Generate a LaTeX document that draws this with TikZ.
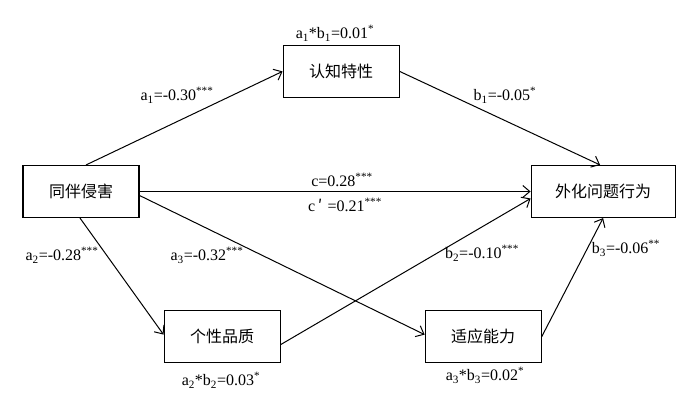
\documentclass[tikz,border=0pt]{standalone}
\usepackage{fontspec}
\setmainfont{Liberation Serif}
\newfontfamily\cjk{Noto Sans CJK SC}
\usetikzlibrary{positioning,arrows.meta}

\tikzset{
	box/.style={draw, line width=1.1pt, minimum width=116pt, minimum height=52pt, inner sep=0pt, font=\cjk\fontsize{16}{18}\selectfont},
	coef/.style={inner sep=0pt, font=\fontsize{16}{18}\selectfont},
	path/.style={line width=1pt, -{Straight Barb[length=7pt,width=12pt]}},
}

\begin{document}
\begin{tikzpicture}[x=1pt, y=-1pt]
		\useasboundingbox (0,0) rectangle (700,408);
		% variables
		\node [box] (peer) at (81,191.5) {同伴侵害};
		\node [box, above right=67pt and 143pt of peer] (cog) {认知特性};
		\node [box, below right=92pt and 24pt of peer] (pers) {个性品质};
		\node [box, right=144pt of pers] (adapt) {适应能力};
		\node [box, minimum width=144pt, right=391pt of peer] (ext) {外化问题行为};
		% paths
		\draw [path] ([xshift=5pt]peer.north) -- (cog.west);
		\draw [path] (cog.east) -- ([xshift=-3pt]ext.north);
		\draw [path] (peer.east) -- (ext.west);
		\draw [path] ([yshift=-4pt]peer.east) -- ([yshift=2pt]adapt.west);
		\draw [path] ([xshift=-1pt]peer.south) -- ([yshift=2pt]pers.west);
		\draw [path] ([yshift=-8pt]pers.east) -- ([yshift=-7pt]ext.west);
		\draw [path] (adapt.east) -- (ext.south);
		% coefficients
		\node [coef] (ab1) at (335,33) {a\textsubscript{1}*b\textsubscript{1}=0.01\textsuperscript{*}};
		\node [coef] (a1) at (177,95) {a\textsubscript{1}=-0.30\textsuperscript{***}};
		\node [coef] (b1) at (505,95) {b\textsubscript{1}=-0.05\textsuperscript{*}};
		\node [coef] (c) at (342,180) {c=0.28\textsuperscript{***}};
		\node [coef] (cp) at (345,205) {c\,{\cjk ′}\,\,=0.21\textsuperscript{***}};
		\node [coef] (a2) at (62,255) {a\textsubscript{2}=-0.28\textsuperscript{***}};
		\node [coef] (a3) at (207,255) {a\textsubscript{3}=-0.32\textsuperscript{***}};
		\node [coef] (b2) at (482,253) {b\textsubscript{2}=-0.10\textsuperscript{***}};
		\node [coef] (b3) at (626,248) {b\textsubscript{3}=-0.06\textsuperscript{**}};
		\node [coef] (ab2) at (221,380) {a\textsubscript{2}*b\textsubscript{2}=0.03\textsuperscript{*}};
		\node [coef] (ab3) at (485,375) {a\textsubscript{3}*b\textsubscript{3}=0.02\textsuperscript{*}};
	\end{tikzpicture}
\end{document}
